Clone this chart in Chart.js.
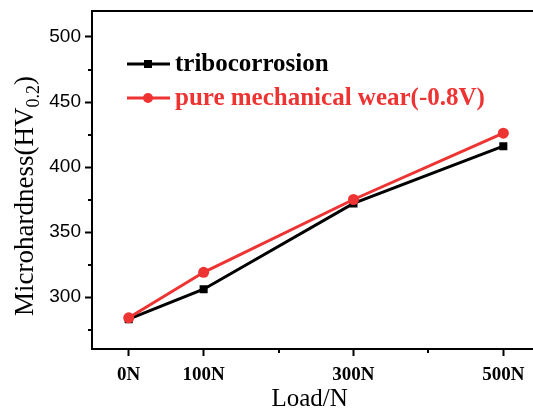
<!DOCTYPE html>
<html>
<head>
<meta charset="utf-8">
<script src="https://cdn.jsdelivr.net/npm/chart.js@4/dist/chart.umd.min.js"></script>
<style>
html,body{margin:0;padding:0;background:#fff;}
#wrap{width:533px;height:412px;}
</style>
</head>
<body>
<div id="wrap"><canvas id="c" width="533" height="412"></canvas></div>
<script>
const loads = [0, 100, 300, 500];
const xTickValues = [0, 100, 200, 300, 400, 500];
const xTickLabels = {0: '0N', 100: '100N', 300: '300N', 500: '500N'};
const tribocorrosion = [283, 306, 372, 416];
const pureMechanical = [284, 319, 375, 426];
const yTickValues = [275, 300, 325, 350, 375, 400, 425, 450, 475, 500];
const seriesNames = ['tribocorrosion', 'pure mechanical wear(-0.8V)'];

const RED = '#ee3333';
const BLACK = '#000000';

const isMinorX = v => !(v in xTickLabels);
const isMinorY = v => v % 50 !== 0;

const extras = {
  id: 'extras',
  afterDraw(chart) {
    const ctx = chart.ctx;
    const a = chart.chartArea;
    const xs = chart.scales.x, ys = chart.scales.y;
    ctx.save();
    // top frame line and bottom extension to the edge
    ctx.strokeStyle = '#000';
    ctx.lineWidth = 2;
    ctx.beginPath();
    ctx.moveTo(a.left - 1, a.top);
    ctx.lineTo(chart.width, a.top);
    ctx.moveTo(a.right - 1, a.bottom);
    ctx.lineTo(chart.width, a.bottom);
    ctx.stroke();
    // minor ticks
    ctx.lineWidth = 2;
    ctx.beginPath();
    yTickValues.filter(isMinorY).forEach(v => {
      const y = Math.round(ys.getPixelForValue(v));
      ctx.moveTo(a.left - 4, y);
      ctx.lineTo(a.left, y);
    });
    xTickValues.filter(isMinorX).forEach(v => {
      const x = Math.round(xs.getPixelForValue(v));
      ctx.moveTo(x, a.bottom);
      ctx.lineTo(x, a.bottom + 4);
    });
    ctx.stroke();

    // legend
    chart.data.datasets.forEach((ds, i) => {
      const y = 64 + i * 34;
      ctx.strokeStyle = ds.borderColor;
      ctx.fillStyle = ds.borderColor;
      ctx.lineWidth = 3;
      ctx.beginPath();
      ctx.moveTo(127, y);
      ctx.lineTo(170, y);
      ctx.stroke();
      if (ds.pointStyle === 'rect') {
        ctx.fillRect(148 - 4, y - 4, 8, 8);
      } else {
        ctx.beginPath();
        ctx.arc(148, y, 5, 0, Math.PI * 2);
        ctx.fill();
      }
      ctx.font = 'bold 25px "Liberation Serif"';
      ctx.textBaseline = 'middle';
      ctx.textAlign = 'left';
      ctx.fillText(ds.label, 175, y + 1);
    });

    // y axis title with subscript
    const mainFont = '27px "Liberation Serif"';
    const subFont = '18px "Liberation Serif"';
    const p1 = 'Microhardness(HV', p2 = '0.2', p3 = ')';
    ctx.font = mainFont;
    const w1 = ctx.measureText(p1).width;
    const w3 = ctx.measureText(p3).width;
    ctx.font = subFont;
    const w2 = ctx.measureText(p2).width;
    const total = w1 + w2 + w3;
    ctx.translate(24, 196);
    ctx.rotate(-Math.PI / 2);
    ctx.fillStyle = '#000';
    ctx.textBaseline = 'alphabetic';
    ctx.textAlign = 'left';
    let x0 = -total / 2;
    const base = 9;
    ctx.font = mainFont;
    ctx.fillText(p1, x0, base);
    ctx.font = subFont;
    ctx.fillText(p2, x0 + w1, base + 6);
    ctx.font = mainFont;
    ctx.fillText(p3, x0 + w1 + w2, base);
    ctx.restore();
  }
};

new Chart(document.getElementById('c'), {
  type: 'line',
  data: {
    datasets: [
      {
        label: seriesNames[0],
        data: loads.map((x, i) => ({x: x, y: tribocorrosion[i]})),
        borderColor: BLACK,
        backgroundColor: BLACK,
        borderWidth: 3,
        pointStyle: 'rect',
        pointRadius: 5.7,
        pointBorderWidth: 0,
        order: 1
      },
      {
        label: seriesNames[1],
        data: loads.map((x, i) => ({x: x, y: pureMechanical[i]})),
        borderColor: RED,
        backgroundColor: RED,
        borderWidth: 3,
        pointStyle: 'circle',
        pointRadius: 5.5,
        pointBorderWidth: 0,
        order: 0
      }
    ]
  },
  options: {
    responsive: false,
    animation: false,
    layout: {padding: {left: 0, top: 11, right: 0, bottom: 0}},
    plugins: {legend: {display: false}, tooltip: {enabled: false}},
    scales: {
      x: {
        type: 'linear',
        min: -49,
        max: 532,
        afterBuildTicks: s => { s.ticks = xTickValues.map(v => ({value: v})); },
        afterFit: s => { s.height = 63; s.paddingLeft = 0; s.paddingRight = 0; },
        border: {display: true, color: '#000', width: 2},
        grid: {
          display: true,
          drawOnChartArea: false,
          drawTicks: true,
          tickLength: 7,
          tickWidth: 2,
          tickColor: c => (c.tick && isMinorX(c.tick.value)) ? 'rgba(0,0,0,0)' : '#000'
        },
        ticks: {
          autoSkip: false,
          maxRotation: 0,
          padding: 8,
          color: '#000',
          font: {family: '"Liberation Serif"', size: 19, weight: 'bold'},
          callback: v => xTickLabels[v] || ''
        },
        title: {
          display: true,
          text: 'Load/N',
          color: '#000',
          font: {family: '"Liberation Serif"', size: 25, lineHeight: 1.0},
          padding: {top: 0, bottom: 0}
        }
      },
      y: {
        type: 'linear',
        min: 260,
        max: 520,
        afterBuildTicks: s => { s.ticks = yTickValues.map(v => ({value: v})); },
        afterFit: s => { s.width = 92; s.paddingTop = 0; s.paddingBottom = 0; },
        border: {display: true, color: '#000', width: 2},
        grid: {
          display: true,
          drawOnChartArea: false,
          drawTicks: true,
          tickLength: 7,
          tickWidth: 2,
          tickColor: c => (c.tick && isMinorY(c.tick.value)) ? 'rgba(0,0,0,0)' : '#000'
        },
        ticks: {
          autoSkip: false,
          padding: 4,
          color: '#000',
          font: {family: '"Liberation Sans"', size: 19},
          callback: v => isMinorY(v) ? '' : String(v)
        }
      }
    }
  },
  plugins: [extras]
});
</script>
</body>
</html>
